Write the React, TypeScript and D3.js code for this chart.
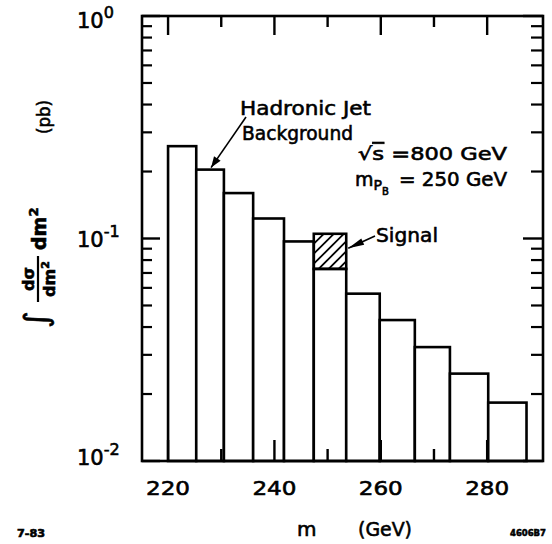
import React from 'react';
import * as d3 from 'd3';

// histogram bin edges (GeV) and integrated cross section per bin (pb)
const binEdges = [220, 225.3, 230.5, 236, 241.8, 247.4, 253.5, 259.8, 266.4, 273, 280.2, 287.4];
const background = [0.26, 0.204, 0.16, 0.123, 0.097, 0.073, 0.0565, 0.043, 0.0325, 0.0247, 0.0183];
const signalBin = 5;
const signalTop = 0.105;

const xMajor = [220, 240, 260, 280];
const xMinor = [230, 250, 270];
const yDecades = [1, 0.1, 0.01];
const yExponents = ['0', '-1', '-2'];
const minorSteps = [2, 3, 4, 5, 6, 7, 8, 9];

const W = 552, H = 544;
const frame = { left: 142, right: 543, top: 16, bottom: 461 };
const FONT = 'DejaVu Sans, sans-serif';

function arrowHead(from: number[], to: number[], len: number, hw: number) {
  const dx = to[0] - from[0], dy = to[1] - from[1];
  const d = Math.hypot(dx, dy);
  const ux = dx / d, uy = dy / d;
  const bx = to[0] - ux * len, by = to[1] - uy * len;
  return `${to[0]},${to[1]} ${bx - uy * hw},${by + ux * hw} ${bx + uy * hw},${by - ux * hw}`;
}

export default function App() {
  const x = d3.scaleLinear().domain([215.1, 290.5]).range([frame.left, frame.right]);
  const y = d3.scaleLog().domain([0.01, 1]).range([frame.bottom, frame.top]);

  const minorY = yDecades.slice(1).flatMap(d => minorSteps.map(m => d * m));

  // signal box
  const sx0 = x(binEdges[signalBin]);
  const sx1 = x(binEdges[signalBin + 1]);
  const sy0 = y(signalTop);
  const sy1 = y(background[signalBin]);
  const hatch = d3.range(sx0 - (sy1 - sy0), sx1, 10);

  // annotation arrows, anchored to the bars
  const hjTip = [x((binEdges[1] + binEdges[2]) / 2) + 1, y(background[1]) - 2];
  const hjFrom = [246, 117];
  const sgTip = [sx1 + 2, (sy0 + sy1) / 2 - 3];
  const sgFrom = [375, 236];

  return (
    <svg width={W} height={H} style={{ position: 'absolute', left: 0, top: 0, background: '#fff' }}
      fontFamily={FONT}>
      <style>{'text{stroke:#000;stroke-width:0.6px}'}</style>
      <defs>
        <clipPath id="sigclip">
          <rect x={sx0} y={sy0} width={sx1 - sx0} height={sy1 - sy0} />
        </clipPath>
      </defs>

      {/* bars */}
      {background.map((v, i) => (
        <rect key={i} x={x(binEdges[i])} y={y(v)} width={x(binEdges[i + 1]) - x(binEdges[i])}
          height={y(0.01) - y(v)} fill="#fff" stroke="#000" strokeWidth={2.6} />
      ))}
      <g clipPath="url(#sigclip)">
        {hatch.map((h, i) => (
          <line key={i} x1={h} y1={sy1} x2={h + (sy1 - sy0)} y2={sy0} stroke="#000" strokeWidth={1.8} />
        ))}
      </g>
      <rect x={sx0} y={sy0} width={sx1 - sx0} height={sy1 - sy0} fill="none" stroke="#000" strokeWidth={2.6} />

      {/* frame */}
      <rect x={frame.left} y={frame.top} width={frame.right - frame.left} height={frame.bottom - frame.top}
        fill="none" stroke="#000" strokeWidth={2.6} />

      {/* x ticks */}
      {xMajor.map(t => (
        <g key={t}>
          <line x1={x(t)} x2={x(t)} y1={frame.top} y2={frame.top + 19} stroke="#000" strokeWidth={2.4} />
          <line x1={x(t)} x2={x(t)} y1={frame.bottom} y2={frame.bottom - 21} stroke="#000" strokeWidth={2.4} />
          <text x={x(t)} y={495} textAnchor="middle" fontSize={20} textLength={44} lengthAdjust="spacingAndGlyphs">{t}</text>
        </g>
      ))}
      {xMinor.map(t => (
        <g key={t}>
          <line x1={x(t)} x2={x(t)} y1={frame.top} y2={frame.top + 11} stroke="#000" strokeWidth={2.4} />
          <line x1={x(t)} x2={x(t)} y1={frame.bottom} y2={frame.bottom - 12} stroke="#000" strokeWidth={2.4} />
        </g>
      ))}

      {/* y ticks */}
      {yDecades.map((d, i) => (
        <g key={d}>
          <line x1={frame.left} x2={frame.left + 18} y1={y(d)} y2={y(d)} stroke="#000" strokeWidth={2.4} />
          <line x1={frame.right} x2={frame.right - 20} y1={y(d)} y2={y(d)} stroke="#000" strokeWidth={2.4} />
          <text x={77} y={y(d) + (i === 0 ? 12 : i === 2 ? 4 : 8)} fontSize={21}>
            10<tspan dy={-10} fontSize={16}>{yExponents[i]}</tspan>
          </text>
        </g>
      ))}
      {minorY.map(v => (
        <g key={v}>
          <line x1={frame.left} x2={frame.left + 10} y1={y(v)} y2={y(v)} stroke="#000" strokeWidth={2.2} />
          <line x1={frame.right} x2={frame.right - 12} y1={y(v)} y2={y(v)} stroke="#000" strokeWidth={2.2} />
        </g>
      ))}

      {/* annotations */}
      <text x={240} y={115} fontSize={20} textLength={131} lengthAdjust="spacingAndGlyphs">Hadronic Jet</text>
      <text x={242} y={140} fontSize={20} textLength={111} lengthAdjust="spacingAndGlyphs">Background</text>
      <line x1={hjFrom[0]} y1={hjFrom[1]} x2={hjTip[0]} y2={hjTip[1]} stroke="#000" strokeWidth={1.6} />
      <polygon points={arrowHead(hjFrom, hjTip, 11, 4)} fill="#000" />

      <text x={358} y={160} fontSize={18} textLength={149} lengthAdjust="spacingAndGlyphs">
        √<tspan style={{ textDecoration: 'overline' }}>s</tspan> =800 GeV
      </text>
      <text x={355} y={186} fontSize={19}>
        m<tspan dy={4} fontSize={14}>P</tspan><tspan dy={5} fontSize={10}>B</tspan>
      </text>
      <text x={399} y={186} fontSize={19} textLength={108} lengthAdjust="spacingAndGlyphs">= 250 GeV</text>

      <text x={376} y={242} fontSize={20} textLength={62} lengthAdjust="spacingAndGlyphs">Signal</text>
      <line x1={sgFrom[0]} y1={sgFrom[1]} x2={sgTip[0]} y2={sgTip[1]} stroke="#000" strokeWidth={1.6} />
      <polygon points={arrowHead(sgFrom, sgTip, 16, 3.5)} fill="#000" />

      {/* y axis title */}
      <g transform="translate(40,330) rotate(-90)">
        <text x={2} y={7} fontSize={32} strokeWidth={1.2}>∫</text>
        <text x={51} y={-6} fontSize={16} textAnchor="middle" fontWeight="bold">dσ</text>
        <line x1={28} x2={74} y1={-2} y2={-2} stroke="#000" strokeWidth={2.2} />
        <text x={51} y={15} fontSize={16} textAnchor="middle" fontWeight="bold">dm<tspan dy={-6} fontSize={11}>2</tspan></text>
        <text x={80} y={6} fontSize={19} fontWeight="bold">dm<tspan dy={-8} fontSize={13}>2</tspan></text>
        <text x={196} y={10} fontSize={17} textLength={34} lengthAdjust="spacingAndGlyphs">(pb)</text>
      </g>

      {/* x axis title */}
      <text x={297} y={536} fontSize={20}>m</text>
      <text x={358} y={536} fontSize={20} textLength={54} lengthAdjust="spacingAndGlyphs">(GeV)</text>

      <text x={17} y={537} fontSize={10} fontWeight="bold" textLength={28} lengthAdjust="spacingAndGlyphs">7-83</text>
      <text x={510} y={536} fontSize={9} fontWeight="bold" textLength={36} lengthAdjust="spacingAndGlyphs">4606B7</text>
    </svg>
  );
}
